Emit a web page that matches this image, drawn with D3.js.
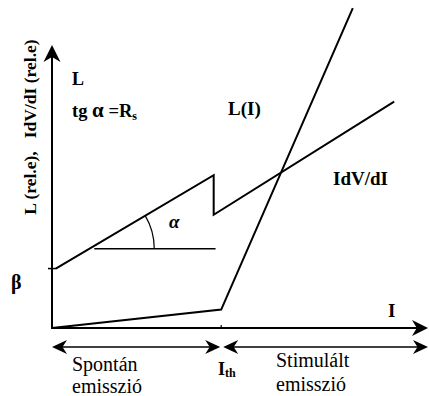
<!DOCTYPE html>
<html>
<head>
<meta charset="utf-8">
<script src="https://cdn.jsdelivr.net/npm/d3@7"></script>
<style>
  html, body { margin: 0; padding: 0; background: #fff; }
  svg { display: block; }
</style>
</head>
<body>
<script>
// Schematic L(I) and I·dV/dI characteristics of a laser diode
const W = 429, H = 396;
const FONT = "'Liberation Serif'";

// current (relative units), threshold current
const I_th = 45;
// light output L(I): spontaneous part, then stimulated part above threshold
const lightI = [0, 45, 80];
const lightL = [0, 6.5, 113];
// I·dV/dI curve: rises with slope R_s, drops at threshold, rises again
const idvI = [1, 43, 43, 91];
const idvV = [21, 54, 40, 80];
// intercept of the I·dV/dI curve on the vertical axis
const beta = 21;
// reference horizontal used to mark the angle alpha
const alphaRefY = 28;
const alphaRefEnd = 43.5;

const svg = d3.select("body").append("svg").attr("width", W).attr("height", H)
  .attr("font-family", FONT);

const x = d3.scaleLinear().domain([0, 100]).range([52, 428]);
const y = d3.scaleLinear().domain([0, 100]).range([328, 45]);

const line = d3.line().x(d => x(d[0])).y(d => y(d[1]));

// filled arrowhead with a concave back
function arrowHead(tx, ty, angle, len, half) {
  const c = Math.cos(angle), s = Math.sin(angle);
  const pt = (a, b) => [tx + a * c - b * s, ty + a * s + b * c];
  const p = [pt(0, 0), pt(-len, -half), pt(-len * 0.7, 0), pt(-len, half)];
  svg.append("path")
    .attr("d", "M" + p.map(q => q.join(",")).join("L") + "Z")
    .attr("fill", "#000");
}

// axes
svg.append("line").attr("x1", x(0)).attr("y1", y(0)).attr("x2", x(0)).attr("y2", y(100) + 4)
  .attr("stroke", "#000").attr("stroke-width", 2);
arrowHead(x(0), y(100), -Math.PI / 2, 17, 8.5);
svg.append("line").attr("x1", x(0) - 1).attr("y1", y(0)).attr("x2", x(100) - 4).attr("y2", y(0))
  .attr("stroke", "#000").attr("stroke-width", 2);
arrowHead(x(100), y(0), 0, 16, 8);

// beta tick
svg.append("line").attr("x1", x(0) - 4).attr("x2", x(0) + 4).attr("y1", y(beta)).attr("y2", y(beta))
  .attr("stroke", "#000").attr("stroke-width", 1.5);
// small mark at threshold on the axis
svg.append("line").attr("x1", x(I_th)).attr("x2", x(I_th)).attr("y1", y(0) - 3).attr("y2", y(0))
  .attr("stroke", "#000").attr("stroke-width", 1.2);

// curves
svg.append("path").attr("d", line(d3.zip(lightI, lightL))).attr("fill", "none")
  .attr("stroke", "#000").attr("stroke-width", 2);
svg.append("path").attr("d", line(d3.zip(idvI, idvV))).attr("fill", "none")
  .attr("stroke", "#000").attr("stroke-width", 2);

// angle alpha construction
const p0 = [x(idvI[0]), y(idvV[0])], p1 = [x(idvI[1]), y(idvV[1])];
const slope = (p1[1] - p0[1]) / (p1[0] - p0[0]);
const vy = y(alphaRefY);
const vx = p0[0] + (vy - p0[1]) / slope;
svg.append("line").attr("x1", vx + 5).attr("x2", x(alphaRefEnd)).attr("y1", vy).attr("y2", vy)
  .attr("stroke", "#000").attr("stroke-width", 1.5);
const ang = Math.atan(-slope);
const r = 65;
svg.append("path")
  .attr("d", `M${vx + r},${vy} A${r},${r} 0 0 0 ${vx + r * Math.cos(ang)},${vy - r * Math.sin(ang)}`)
  .attr("fill", "none").attr("stroke", "#000").attr("stroke-width", 1.2);

// double arrows for the two emission regions
const ya = 347;
function doubleArrow(x1, x2) {
  svg.append("line").attr("x1", x1 + 8).attr("x2", x2 - 8).attr("y1", ya).attr("y2", ya)
    .attr("stroke", "#000").attr("stroke-width", 1.5);
  arrowHead(x1, ya, Math.PI, 15, 7);
  arrowHead(x2, ya, 0, 15, 7);
}
doubleArrow(x(0), x(I_th) - 1);
doubleArrow(x(I_th) + 2, x(100));

// labels
const bold = (t, px, py, size) => svg.append("text").attr("x", px).attr("y", py)
  .attr("font-family", FONT).attr("font-size", size).attr("font-weight", "bold").text(t);

bold("L", 72, 85, 18);
const tg = svg.append("text").attr("x", 72).attr("y", 117).attr("font-family", FONT)
  .attr("font-size", 18.5).attr("font-weight", "bold");
tg.append("tspan").text("tg ");
tg.append("tspan").text("α").attr("font-size", 21);
tg.append("tspan").text(" =R");
tg.append("tspan").text("s").attr("font-size", 12).attr("dy", 3);

bold("L(I)", 228, 115, 19);
bold("IdV/dI", 333, 185, 19);
bold("I", 388, 317, 19);
bold("β", 11, 289, 20);
svg.append("text").attr("x", 169).attr("y", 228).attr("font-family", FONT).attr("font-size", 19)
  .attr("font-weight", "bold").attr("font-style", "italic").text("α");

const ith = svg.append("text").attr("x", 218).attr("y", 375).attr("font-family", FONT)
  .attr("font-size", 18).attr("font-weight", "bold");
ith.append("tspan").text("I");
ith.append("tspan").text("th").attr("font-size", 12).attr("dy", 2);

svg.append("text")
  .attr("transform", "translate(36,127) rotate(-90)")
  .attr("font-family", FONT)
  .attr("text-anchor", "middle").attr("font-size", 17.5).attr("font-weight", "bold")
  .style("white-space", "pre")
  .text("L (rel.e),   IdV/dI (rel.e)");

const reg = (t, px, py) => svg.append("text").attr("x", px).attr("y", py)
  .attr("font-family", FONT).attr("font-size", 20).text(t);
reg("Spontán", 72, 371);
reg("emisszió", 72, 393);
reg("Stimulált", 276, 367);
reg("emisszió", 276, 391);
</script>
</body>
</html>
